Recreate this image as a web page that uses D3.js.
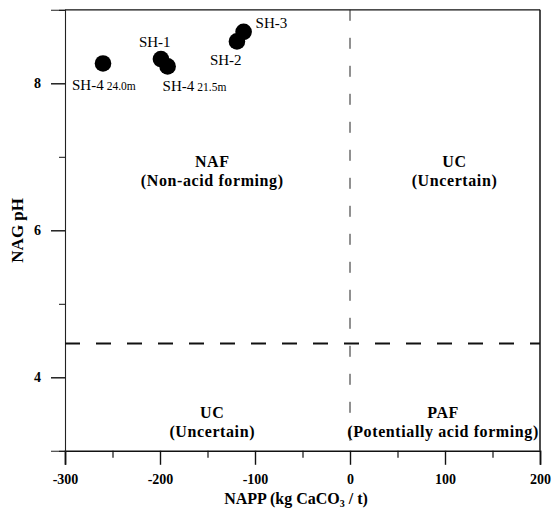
<!DOCTYPE html>
<html><head><meta charset="utf-8">
<script src="https://cdn.jsdelivr.net/npm/d3@7"></script>
<style>
html,body{margin:0;padding:0;background:#fff;}
svg{display:block;font-family:"Liberation Serif","Times New Roman",serif;}
</style></head>
<body>
<script>
// ---- data ----
const sampleNames = ["SH-4", "SH-1", "SH-4", "SH-2", "SH-3"];
const sampleDepths = ["24.0m", "", "21.5m", "", ""];
const nappValues = [-260, -199, -192, -119, -112];
const nagPhValues = [8.27, 8.33, 8.23, 8.57, 8.70];
const xTickValues = [-300, -200, -100, 0, 100, 200];
const xMinorTicks = [-250, -150, -50, 50, 150];
const yTickValues = [4, 6, 8];
const yMinorTicks = [3, 5, 7, 9];
const nagThreshold = 4.46;
const nappThreshold = 0;
const regionTitles = ["NAF", "UC", "UC", "PAF"];
const regionSubtitles = ["(Non-acid forming)", "(Uncertain)", "(Uncertain)", "(Potentially acid forming)"];
const regionNapp = [-145, 110, -145, 98];
const regionPh = [6.86, 6.86, 3.44, 3.44];

// ---- layout ----
const W = 555, H = 509;
const x = d3.scaleLinear().domain([-300, 200]).range([65, 540]);
const y = d3.scaleLinear().domain([3, 9]).range([450.8, 9.8]);

const svg = d3.select("body").append("svg").attr("width", W).attr("height", H);

// frame (top & right)
svg.append("line").attr("x1", x(-300)).attr("x2", x(200)).attr("y1", y(9)).attr("y2", y(9))
  .attr("stroke", "#111").attr("stroke-width", 1.3);
svg.append("line").attr("x1", x(200)).attr("x2", x(200)).attr("y1", y(9)).attr("y2", y(3))
  .attr("stroke", "#111").attr("stroke-width", 1.5);

// x axis
const xAxis = svg.append("g").attr("transform", `translate(0,${y(3)})`)
  .call(d3.axisBottom(x).tickValues(xTickValues).tickSize(14).tickPadding(9)
    .tickFormat(d => d));
xAxis.select(".domain").attr("stroke", "#111").attr("stroke-width", 1.6);
xAxis.selectAll(".tick line").attr("stroke", "#111").attr("stroke-width", 1.4);
xAxis.selectAll(".tick text").attr("font-family", "Liberation Serif").attr("font-weight", "bold")
  .attr("font-size", 14).attr("fill", "#000");
svg.append("g").attr("transform", `translate(0,${y(3)})`)
  .call(d3.axisBottom(x).tickValues(xMinorTicks).tickSize(7).tickFormat(""))
  .call(g => g.select(".domain").remove())
  .selectAll(".tick line").attr("stroke", "#111").attr("stroke-width", 1.2);

// y axis
const yAxis = svg.append("g").attr("transform", `translate(${x(-300)},0)`)
  .call(d3.axisLeft(y).tickValues(yTickValues).tickSize(14).tickPadding(10).tickFormat(d => d));
yAxis.select(".domain").attr("stroke", "#222").attr("stroke-width", 1.1);
yAxis.selectAll(".tick line").attr("stroke", "#111").attr("stroke-width", 1.4);
yAxis.selectAll(".tick text").attr("font-family", "Liberation Serif").attr("font-weight", "bold")
  .attr("font-size", 14).attr("fill", "#000");
svg.append("g").attr("transform", `translate(${x(-300)},0)`)
  .call(d3.axisLeft(y).tickValues(yMinorTicks).tickSize(6).tickFormat(""))
  .call(g => g.select(".domain").remove())
  .selectAll(".tick line").attr("stroke", "#111");

// threshold lines
svg.append("line").attr("x1", x(-300)).attr("x2", x(200)).attr("y1", y(nagThreshold)).attr("y2", y(nagThreshold))
  .attr("stroke", "#111").attr("stroke-width", 1.8).attr("stroke-dasharray", "15,16");
svg.append("line").attr("x1", x(nappThreshold)).attr("x2", x(nappThreshold)).attr("y1", y(9)).attr("y2", y(3))
  .attr("stroke", "#222").attr("stroke-width", 1).attr("stroke-dasharray", "11,17");

// region labels
regionTitles.forEach((t, i) => {
  const g = svg.append("text").attr("x", x(regionNapp[i])).attr("y", y(regionPh[i]))
    .attr("text-anchor", "middle").attr("font-weight", "bold").attr("font-size", 16)
    .attr("letter-spacing", 0.6).attr("fill", "#000");
  g.append("tspan").attr("x", x(regionNapp[i])).attr("dy", 0).text(t);
  g.append("tspan").attr("x", x(regionNapp[i])).attr("dy", 19).text(regionSubtitles[i]);
});

// points
const pts = sampleNames.map((n, i) => ({name: n, depth: sampleDepths[i], napp: nappValues[i], ph: nagPhValues[i]}));
svg.selectAll("circle.pt").data(pts).join("circle").attr("class", "pt")
  .attr("cx", d => x(d.napp)).attr("cy", d => y(d.ph)).attr("r", 8.3).attr("fill", "#000");

// point labels (offsets in px relative to marker)
const labelDx = [-31, -22, -5, -27, 12];
const labelDy = [27, -12, 25, 24, -4];
pts.forEach((d, i) => {
  const t = svg.append("text").attr("x", x(d.napp) + labelDx[i]).attr("y", y(d.ph) + labelDy[i])
    .attr("font-size", 15).attr("fill", "#000");
  t.append("tspan").text(d.name);
  if (d.depth) t.append("tspan").attr("font-size", 11.5).attr("dx", 3).text(d.depth);
});

// axis titles
const xt = svg.append("text").attr("x", 296).attr("y", 504).attr("text-anchor", "middle")
  .attr("font-weight", "bold").attr("font-size", 16).attr("fill", "#000");
xt.append("tspan").text("NAPP (kg CaCO");
xt.append("tspan").attr("font-size", 10).attr("dy", 3).text("3");
xt.append("tspan").attr("dy", -3).text(" / t)");

svg.append("text").attr("transform", `translate(23,${y(6)}) rotate(-90)`).attr("text-anchor", "middle")
  .attr("font-weight", "bold").attr("font-size", 17).attr("fill", "#000").text("NAG pH");
</script>
</body></html>
